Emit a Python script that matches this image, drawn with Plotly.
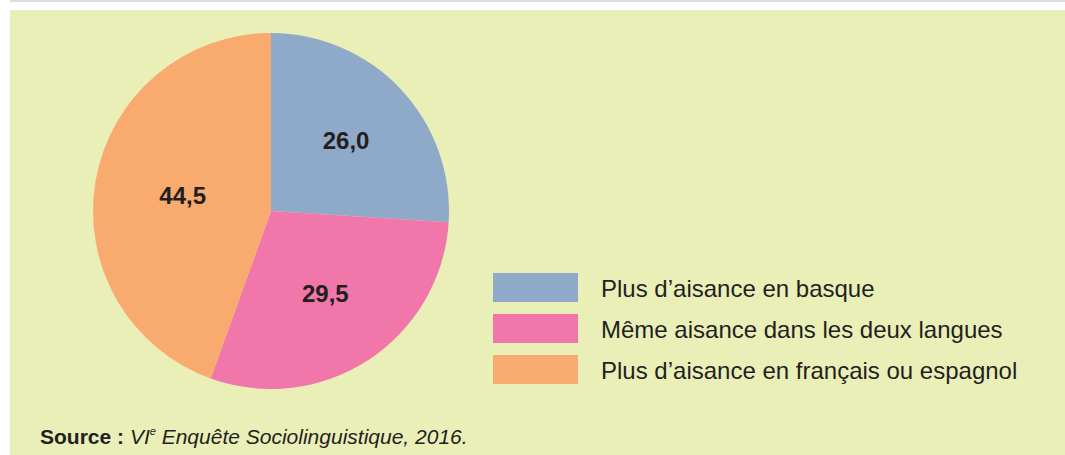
import plotly.graph_objects as go

categories = ["Plus d’aisance en basque",
              "Même aisance dans les deux langues",
              "Plus d’aisance en français ou espagnol"]
values = [26.0, 29.5, 44.5]
colors = ["#8FA9C8", "#F176AA", "#F9AA6F"]
source_text = ("<b>Source :</b> <i>VI<sup><span style='font-size:11px'>e</span></sup>"
               " Enquête Sociolinguistique, 2016.</i>")

W, H = 1065, 455
BG = "#EAEFB8"
FONT = "Liberation Sans, Arial, Helvetica, sans-serif"

fig = go.Figure()
fig.add_trace(go.Pie(
    labels=categories, values=values,
    marker=dict(colors=colors, line=dict(width=0)),
    sort=False, direction="clockwise", rotation=0,
    texttemplate="<b>%{value:.1f}</b>", textposition="inside",
    insidetextorientation="horizontal",
    textfont=dict(family=FONT, size=24, color="#231F20"),
    showlegend=False, hoverinfo="label+value",
    domain=dict(x=[93 / W, 449 / W], y=[1 - 389 / H, 1 - 33 / H]),
))

shapes = [
    dict(type="rect", xref="paper", yref="paper", x0=10 / W, x1=1, y0=0, y1=1 - 10 / H,
         fillcolor=BG, line=dict(width=0), layer="below"),
    dict(type="line", xref="paper", yref="paper", x0=10 / W, x1=1, y0=1 - 1 / H, y1=1 - 1 / H,
         line=dict(color="#D0D0D0", width=1.5)),
]
annotations = []
tops = [273, 314, 355]
for cat, col, top in zip(categories, colors, tops):
    shapes.append(dict(type="rect", xref="paper", yref="paper",
                       x0=493 / W, x1=578 / W, y0=1 - (top + 29) / H, y1=1 - top / H,
                       fillcolor=col, line=dict(width=0)))
    annotations.append(dict(xref="paper", yref="paper", x=599 / W, y=1 - (top + 15) / H,
                            xanchor="left", yanchor="middle", showarrow=False, text=cat,
                            font=dict(family=FONT, size=24, color="#231F20")))
annotations.append(dict(xref="paper", yref="paper", x=38 / W, y=1 - 436 / H,
                        xanchor="left", yanchor="middle", showarrow=False, text=source_text,
                        font=dict(family=FONT, size=21, color="#231F20")))

fig.update_layout(
    width=W, height=H, margin=dict(l=0, r=0, t=0, b=0),
    paper_bgcolor="white", plot_bgcolor="white",
    separators=", ",
    shapes=shapes, annotations=annotations,
)
fig.write_html("out.html", config={"displayModeBar": False},
               post_script="document.body.style.margin='0px';document.body.style.overflow='hidden';")
